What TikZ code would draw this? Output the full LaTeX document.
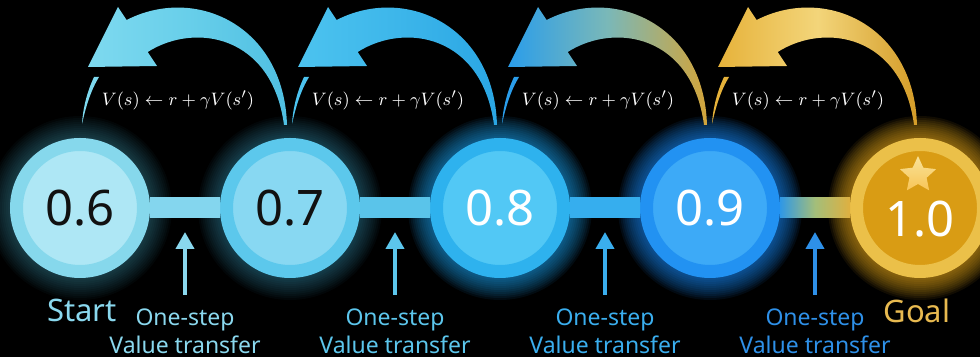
\documentclass[tikz,border=0pt]{standalone}
\usepackage{fontspec}
\setmainfont{Noto Sans}
\usetikzlibrary{arrows.meta,shapes.geometric}
\definecolor{ringA}{HTML}{86D8EC}
\definecolor{discA}{HTML}{AEE7F5}
\definecolor{ringB}{HTML}{5CC8EC}
\definecolor{discB}{HTML}{88D8F2}
\definecolor{ringC}{HTML}{2EB2EE}
\definecolor{discC}{HTML}{52C8F5}
\definecolor{ringD}{HTML}{2292F2}
\definecolor{discD}{HTML}{3DAAF7}
\definecolor{ringE}{HTML}{EBC049}
\definecolor{discE}{HTML}{D99C14}
\definecolor{numdark}{HTML}{111111}
\definecolor{starc}{HTML}{F6D66C}
\definecolor{glowA}{HTML}{5CCBEA}
\definecolor{glowB}{HTML}{48BFEA}
\definecolor{glowC}{HTML}{1FA6F2}
\definecolor{glowD}{HTML}{1A86F2}
\definecolor{glowE}{HTML}{E2A51C}
\definecolor{barA}{HTML}{84D6EE}
\definecolor{barB}{HTML}{5AC4EA}
\definecolor{barC}{HTML}{36AEEE}
\definecolor{barD}{HTML}{2F98E6}
\definecolor{barM}{HTML}{A3BE7A}
\definecolor{barE}{HTML}{DFB040}
\definecolor{labA}{HTML}{8AD8EE}
\definecolor{labB}{HTML}{5CC6EC}
\definecolor{labC}{HTML}{3AAEEE}
\definecolor{labD}{HTML}{2E90E8}
\definecolor{goalc}{HTML}{E8BA50}
\definecolor{bkA1}{HTML}{7ED9EF}
\definecolor{bkA2}{HTML}{68CFEA}
\definecolor{bkA3}{HTML}{4FBFE2}
\definecolor{bkB1}{HTML}{4CC3EF}
\definecolor{bkB2}{HTML}{3DB6EA}
\definecolor{bkB3}{HTML}{2AA6E4}
\definecolor{bkC1}{HTML}{2A9DEA}
\definecolor{bkC2}{HTML}{7AB8B8}
\definecolor{bkC3}{HTML}{D2A43A}
\definecolor{bkD1}{HTML}{E6B23A}
\definecolor{bkD2}{HTML}{F3D57A}
\definecolor{bkD3}{HTML}{D49C28}

\begin{document}
\begin{tikzpicture}[x=0.5pt, y=-0.5pt,
      lvl/.style={circle, draw, line width=6.5pt, outer sep=3.25pt, inner sep=0pt,
        minimum size=63.5pt, font=\fontsize{24.5}{28}\selectfont},
      lvlA/.style={lvl, draw=ringA, fill=discA, text=numdark},
      lvlB/.style={lvl, draw=ringB, fill=discB, text=numdark},
      lvlC/.style={lvl, draw=ringC, fill=discC, text=white},
      lvlD/.style={lvl, draw=ringD, fill=discD, text=white},
      lvlE/.style={lvl, draw=ringE, fill=discE, text=white,
        text height=28.5pt, text depth=0pt},
      stepup/.style={line width=2pt, -{Triangle[width=9pt,length=8.5pt]},
        shorten <=4.5pt},
      steplab/.style={anchor=north, align=center, inner sep=2pt,
        font=\fontsize{11.5}{14}\selectfont},
      endlab/.style={anchor=base, inner sep=0pt, font=\fontsize{15.5}{18}\selectfont},
      rule/.style={anchor=base, inner sep=0pt, text=white,
        font=\fontsize{9.3}{11}\selectfont}]
    \useasboundingbox (0,0) rectangle (980,357);
    \fill[black] (0,0) rectangle (980,357);
    % glow under the states
    \foreach \i/\x/\gc/\op in {1/80/glowA/0.03, 2/290/glowB/0.035, 3/500/glowC/0.07,
        4/710/glowD/0.08, 5/920/glowE/0.08} {
      \coordinate (c\i) at (\x,208);
      \foreach \r in {46,45,...,35}
        \fill[\gc, opacity=\op] (c\i) circle (\r pt);
    }
    % states
    \foreach \i/\v/\sty in {1/0.6/lvlA, 2/0.7/lvlB, 3/0.8/lvlC, 4/0.9/lvlD, 5/1.0/lvlE}
      \node[\sty] (s\i) at (c\i) {\v};
    \node[star, star points=5, star point ratio=2.1, inner sep=0pt, minimum size=19pt,
          top color=starc!70!white, bottom color=starc!80!orange] (st) at (918,175) {};
    % links
    \foreach \i/\j/\ca/\cm/\cb in {1/2/barA/barA/barA, 2/3/barB/barB/barB,
        3/4/barC/barC/barC, 4/5/barD/barM/barE}
      \fill[left color=\ca, right color=\cb, middle color=\cm]
        ([yshift=5pt]s\i.east) rectangle ([yshift=-5pt]s\j.west);
    % one-step arrows and labels
    \foreach \i/\x/\lc in {1/185/labA, 2/395/labB, 3/605/labC, 4/815/labD} {
      \coordinate (p\i) at (\x,232);
      \node[steplab, text=\lc] (t\i) at (\x,304) {One-step\\Value transfer};
      \draw[stepup, \lc] (t\i) -- (p\i);
    }
    \node[endlab, text=labA] (start) at (82,322) {Start};
    \node[endlab, text=goalc] (goal) at (917,323) {Goal};
    % backup arrows
    \foreach \k/\ca/\cm/\cb in {0/bkA1/bkA2/bkA3, 210/bkB1/bkB2/bkB3,
        420/bkC1/bkC2/bkC3, 630/bkD1/bkD2/bkD3} {
      \begin{scope}[shift={(\k,0)}]
        \fill[left color=\ca, right color=\cb, middle color=\cm]
          (88,67) -- (118,7) -- (126.6,20)
          .. controls (195,-15) and (284,25) .. (287,125) -- (284,125)
          .. controls (272,35) and (195,22) .. (147.7,52)
          -- (157,66) -- cycle;
        \fill[\ca] (94,77) -- (99,77) .. controls (91,90) and (86,106) .. (82,124)
          .. controls (83,108) and (87,92) .. (94,77) -- cycle;
      \end{scope}
      \node[rule] (eq\k) at (178+\k,106) {$V(s) \leftarrow r + \gamma V(s')$};
    }
  \end{tikzpicture}
\end{document}
